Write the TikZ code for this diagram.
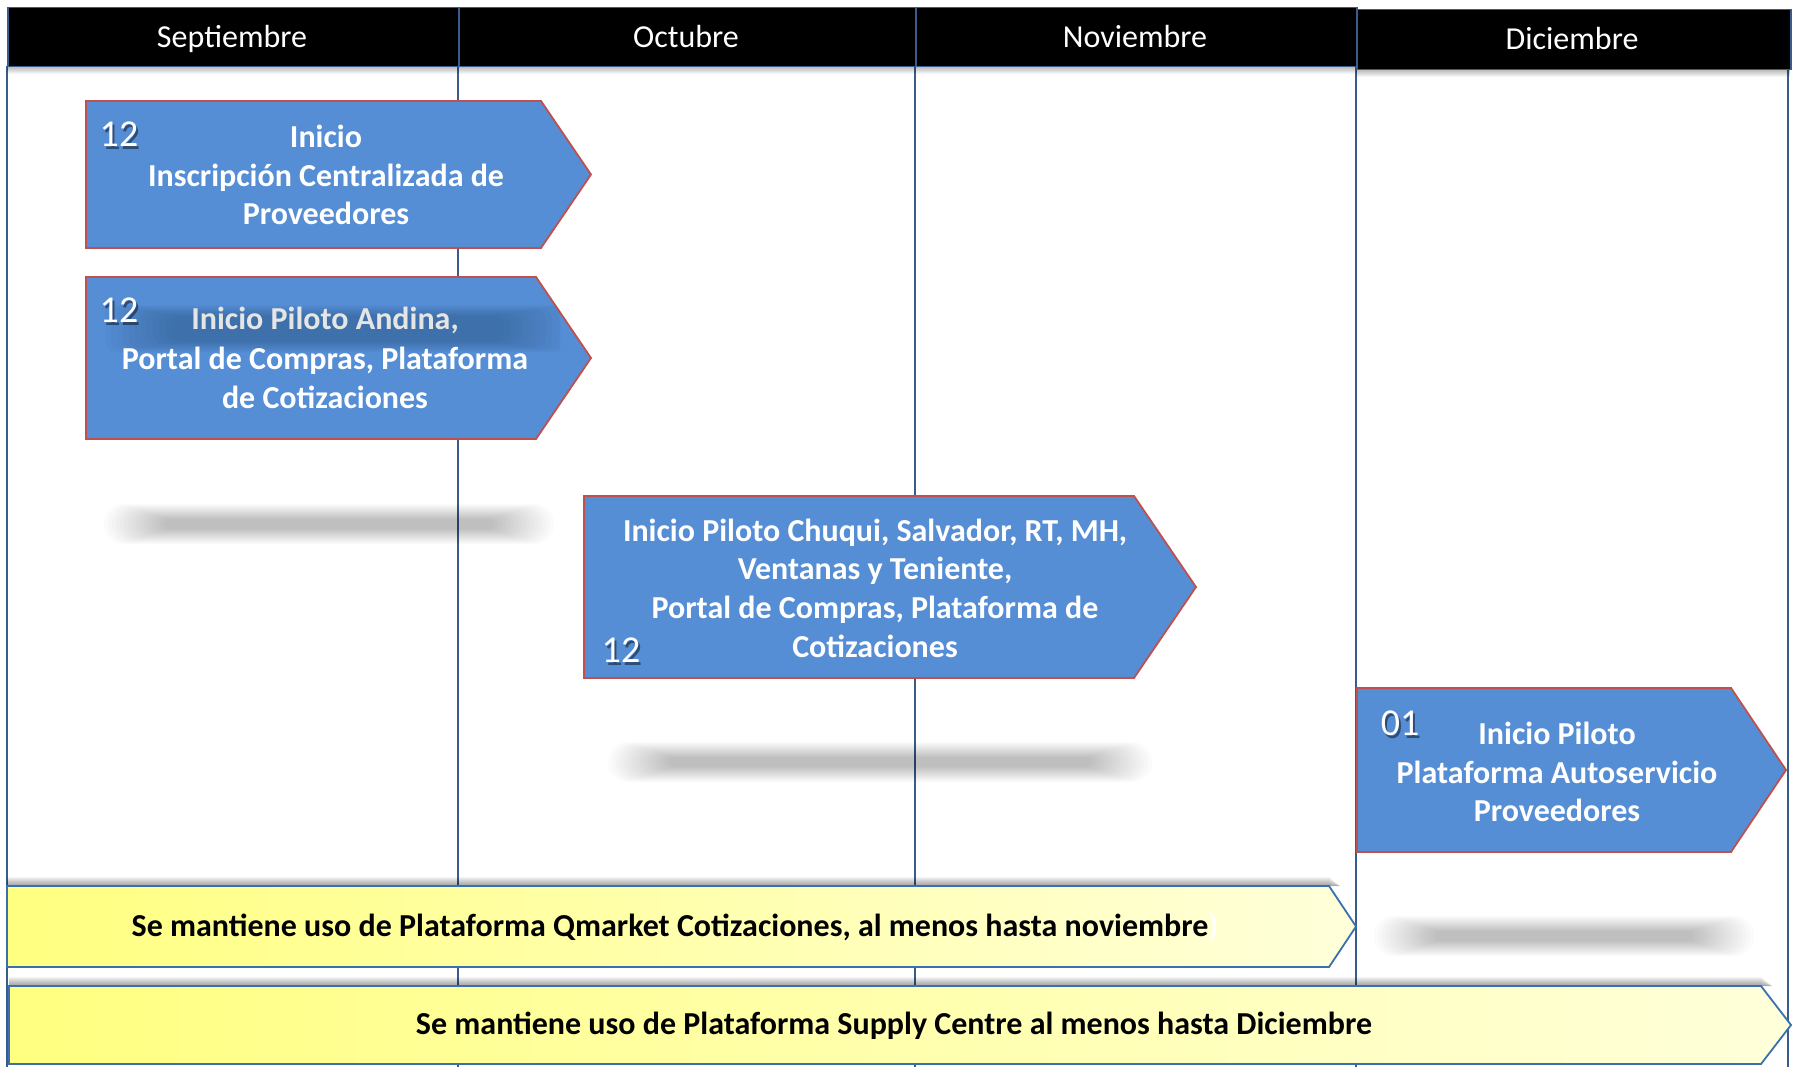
\documentclass[tikz,border=0pt]{standalone}
\usepackage{fontspec}
\setmainfont{Carlito}
\definecolor{boxblue}{HTML}{558ED5}
\definecolor{boxred}{HTML}{C0504D}
\definecolor{lineblue}{HTML}{385D8A}
\definecolor{barblue}{HTML}{3A6FB0}
\definecolor{yelA}{HTML}{FFFF80}
\definecolor{yelB}{HTML}{FFFFDA}
\newcommand\blurbar[4]{%
  \foreach \k in {0,...,15} {
    \fill[black,opacity=0.014,rounded corners={#4-\k}] ({#1-#3+\k*4},{#2-#4+\k}) rectangle ({#1+#3-\k*4},{#2+#4-\k});
  }}
\begin{document}
\begin{tikzpicture}[x=1pt,y=-1pt,
  vline/.style={draw=lineblue,line width=2pt},
  hdr/.style={fill=black,draw=lineblue,line width=1.5pt},
  hdrtext/.style={text=white,font=\fontsize{32}{36}\selectfont,inner sep=0pt,anchor=base},
  arrowbox/.style={fill=boxblue,draw=boxred,line width=1.8pt,line join=miter},
  boxtext/.style={text=white,font=\fontsize{32}{38.6}\selectfont\bfseries,align=center,inner sep=0pt},
  numtext/.style={text=white,font=\fontsize{38}{42}\selectfont,inner sep=0pt},
  numshadow/.style={text=black,opacity=0.45,font=\fontsize{38}{42}\selectfont,inner sep=0pt},
  yelbar/.style={left color=yelA,right color=yelB,draw=barblue,line width=1.8pt},
  yeltext/.style={text=black,font=\fontsize{32}{36}\selectfont\bfseries,inner sep=0pt}]
\useasboundingbox (0,0) rectangle (1793,1067);
\fill[white] (0,0) rectangle (1793,1067);

% vertical lines
\coordinate (l0t) at (7,66);   \coordinate (l0b) at (7,1067);
\coordinate (l1t) at (458,66); \coordinate (l1b) at (458,1067);
\coordinate (l2t) at (915,66); \coordinate (l2b) at (915,1067);
\coordinate (l3t) at (1356,66);\coordinate (l3b) at (1356,1067);
\coordinate (l4t) at (1788,69);\coordinate (l4b) at (1788,1067);
\foreach \a in {0,...,4} {\draw[vline] (l\a t) -- (l\a b);}

% header shadow
\foreach \k in {1,...,8} {\fill[black,opacity=0.04] (7,66) rectangle (1356,{66+\k});}
\foreach \k in {1,...,8} {\fill[black,opacity=0.04] (1356,69) rectangle (1790,{69+\k});}

% header
\node[hdr,minimum width=451pt,minimum height=59pt,anchor=north west] (hsep) at (7,7) {};
\node[hdr,minimum width=457pt,minimum height=59pt,anchor=north west] (hoct) at (458,7) {};
\node[hdr,minimum width=441pt,minimum height=59pt,anchor=north west] (hnov) at (915,7) {};
\node[hdr,minimum width=434pt,minimum height=60pt,anchor=north west] (hdic) at (1356,9) {};
\node[hdrtext] (tsep) at (232,47.5) {Septiembre};
\node[hdrtext] (toct) at (686,47.5) {Octubre};
\node[hdrtext] (tnov) at (1135,47.5) {Noviembre};
\node[hdrtext] (tdic) at (1572,50) {Diciembre};

% blurred grey bars
\blurbar{329}{524}{225}{20}
\blurbar{880}{762}{272}{20}
\blurbar{1564}{936}{190}{20}

% box 1
\draw[arrowbox] (86,101) -- (541,101) -- (591,174.5) -- (541,248) -- (86,248) -- cycle;
\node[boxtext] (b1) at (326,175) {Inicio\\Inscripción Centralizada de\\Proveedores};
\node[numshadow] (s1) at (121,137) {12};
\node[numtext] (n1) at (119,134) {12};

% box 2
\draw[arrowbox] (86,277) -- (536,277) -- (591,358) -- (536,439) -- (86,439) -- cycle;
\begin{scope}
\clip (87,278) rectangle (560,438);
\foreach \k in {0,...,11} {\fill[black,opacity=0.016,rounded corners=10] ({105+\k*6},{305+\k}) rectangle ({570-\k*6},{352-\k});}
\end{scope}
\node[boxtext,text=white!90!black] (b2a) at (325,320) {Inicio Piloto Andina,};
\node[boxtext] (b2) at (325,378) {Portal de Compras, Plataforma\\de Cotizaciones};
\node[numshadow] (s2) at (121,313) {12};
\node[numtext] (n2) at (119,310) {12};

% box 3
\draw[arrowbox] (584,496) -- (1134,496) -- (1196,587) -- (1134,678) -- (584,678) -- cycle;
\node[boxtext] (b3) at (875,588) {Inicio Piloto Chuqui, Salvador, RT, MH,\\Ventanas y Teniente,\\Portal de Compras, Plataforma de\\Cotizaciones};
\node[numshadow] (s3) at (623,653) {12};
\node[numtext] (n3) at (621,650) {12};

% box 4
\draw[arrowbox] (1357,688) -- (1731,688) -- (1786,770) -- (1731,852) -- (1357,852) -- cycle;
\node[boxtext] (b4) at (1557,772) {Inicio Piloto\\Plataforma Autoservicio\\Proveedores};
\node[numshadow] (s4) at (1402,726) {01};
\node[numtext] (n4) at (1400,723) {01};

% yellow bar shadows
\foreach \k in {1,...,9} {\fill[black,opacity=0.045] (7,{886-\k}) -- (1329,{886-\k}) -- (1340,886) -- (7,886) -- cycle;}
\foreach \k in {1,...,9} {\fill[black,opacity=0.045] (9,{986-\k}) -- (1761,{986-\k}) -- (1772,986) -- (9,986) -- cycle;}

% yellow bars
\draw[yelbar] (7,886) -- (1329,886) -- (1356,926.5) -- (1329,967) -- (7,967) -- cycle;
\node[yeltext] (y1) at (675,927) {Se mantiene uso de Plataforma Qmarket Cotizaciones, al menos hasta noviembre\textcolor{white}{)}};
\draw[yelbar] (9,986) -- (1761,986) -- (1791,1025) -- (1761,1064) -- (9,1064) -- cycle;
\node[yeltext] (y2) at (894,1026) {Se mantiene uso de Plataforma Supply Centre al menos hasta Diciembre};
\end{tikzpicture}
\end{document}
